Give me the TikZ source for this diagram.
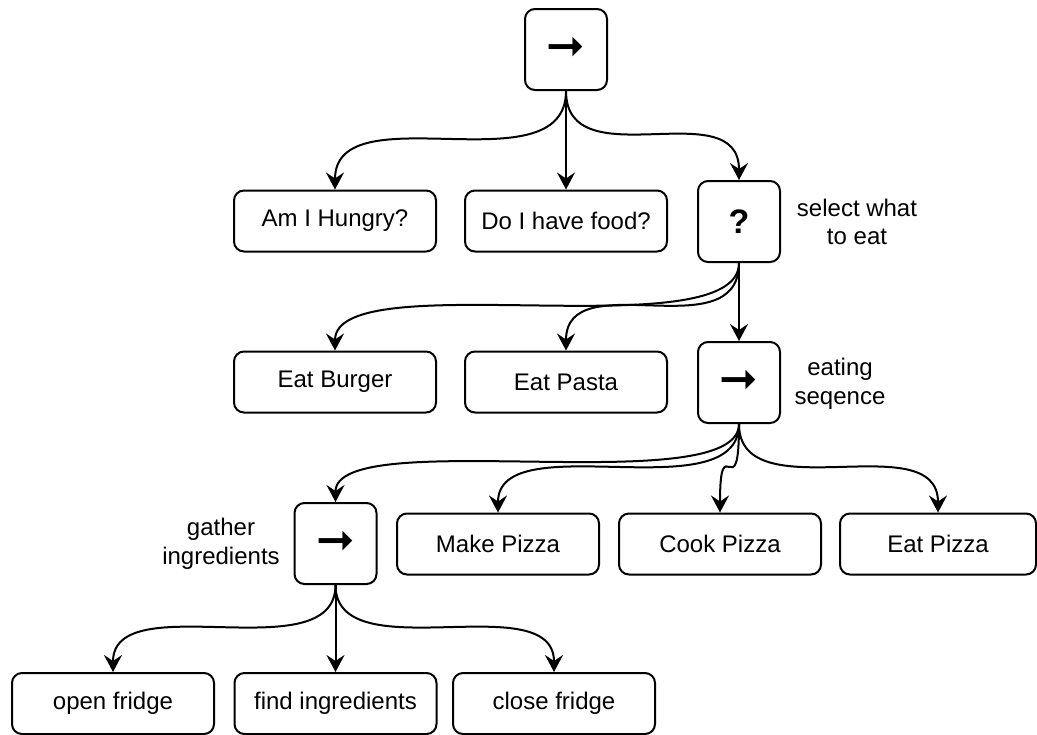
\documentclass[tikz,border=0pt]{standalone}
\usepackage{fontspec}
\setmainfont{Liberation Sans}
\newfontfamily\symfont{DejaVu Sans}
\usetikzlibrary{arrows.meta}

\newcommand{\seqarrow}{{\symfont\bfseries\fontsize{23}{23}\selectfont ➞}}

\begin{document}
\begin{tikzpicture}[
    % styles
    x=0.5pt, y=-0.5pt,
    every node/.style={font=\fontsize{12}{14.4}\selectfont},
    task/.style={draw, line width=1pt, rounded corners=5pt, inner sep=0pt,
                 minimum width=101pt, minimum height=30.5pt},
    control/.style={task, minimum width=41pt, minimum height=40.5pt},
    annot/.style={align=center},
    link/.style={line width=1pt, -{Stealth[length=8.5pt,width=9pt,inset=3pt]}}
]
    \useasboundingbox (0,0) rectangle (1037,734);

    % --- 1. root and first level ---
    \node[control] (root) at (566,49.5) {\seqarrow};
    \node[task] (hungry) at (335,221) {Am I Hungry?};
    \node[task] (food) at (566,221) {Do I have food?};
    \node[control, font=\fontsize{17}{20}\selectfont\bfseries] (select) at (739,221.5) {?};
    \node[annot] (selectlbl) at (857,222) {select what\\to eat};

    % --- 2. selector children ---
    \node[task] (burger) at (335,382) {Eat Burger};
    \node[task] (pasta) at (566,382) {Eat Pasta};
    \node[control] (eating) at (739,382.5) {\seqarrow};
    \node[annot] (eatinglbl) at (840,384) {eating\\seqence};

    % --- 3. eating sequence children ---
    \node[control] (gather) at (335.5,543.5) {\seqarrow};
    \node[annot] (gatherlbl) at (221,544) {gather\\ingredients};
    \node[task] (make) at (498,544) {Make Pizza};
    \node[task] (cook) at (720,544) {Cook Pizza};
    \node[task, minimum width=98pt] (eatpizza) at (938,544) {Eat Pizza};

    % --- 4. gather children ---
    \node[task] (open) at (113,703.5) {open fridge};
    \node[task] (find) at (335.5,703.5) {find ingredients};
    \node[task] (close) at (554,703.5) {close fridge};

    % --- 5. edges ---
    \foreach \a/\b in {root/hungry, root/food, root/select,
                       select/burger, select/pasta, select/eating,
                       eating/gather, eating/make, eating/cook, eating/eatpizza,
                       gather/open, gather/find, gather/close}
        \draw[link] (\a.south) .. controls (\a.south |- \b.north) and (\b.north |- \a.south) .. (\b.north);

\end{tikzpicture}
\end{document}
